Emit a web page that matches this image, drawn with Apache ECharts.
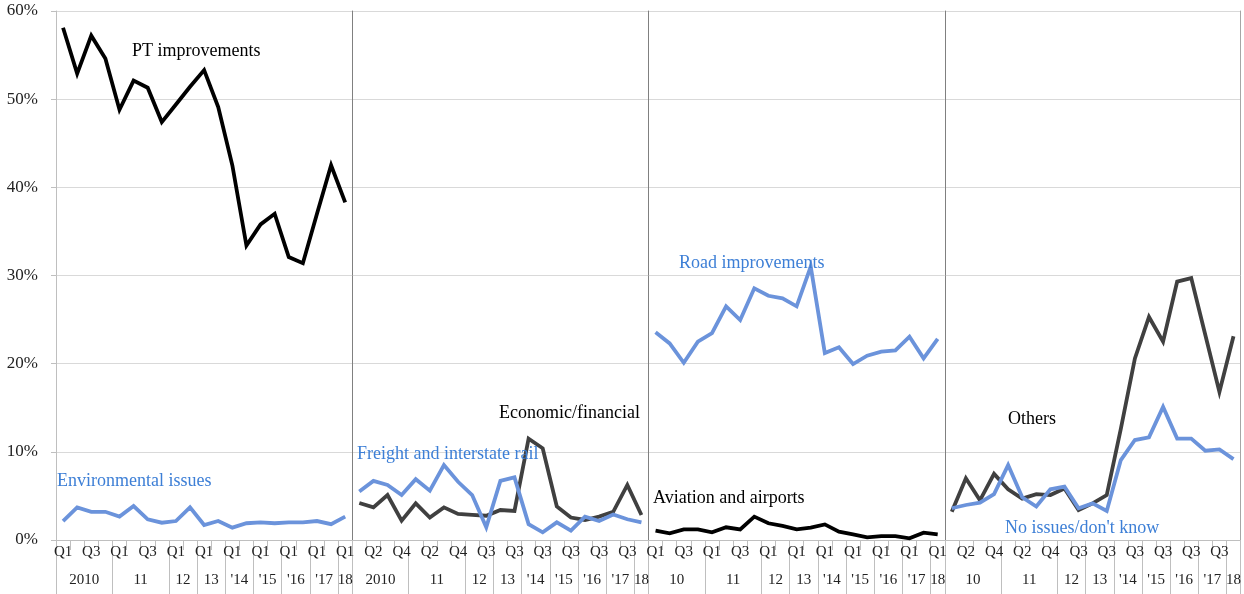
<!DOCTYPE html>
<html>
<head>
<meta charset="utf-8">
<script src="https://cdn.jsdelivr.net/npm/echarts@6/dist/echarts.min.js"></script>
<style>
    body { margin: 0; background: #fff; }
    #main { width: 1244px; height: 594px; }
</style>
</head>
<body>
<div id="main"></div>
<script>
var chartDom = document.getElementById('main');
var myChart = echarts.init(chartDom);
var option;

// quarters - 2010/11 every quarter, then half-yearly
var quarterCats = ['2010 Q1', '2010 Q2', '2010 Q3', '2010 Q4', '2011 Q1', '2011 Q2', '2011 Q3', '2011 Q4',
    '2012 Q1', '2012 Q3', '2013 Q1', '2013 Q3', '2014 Q1', '2014 Q3', '2015 Q1', '2015 Q3',
    '2016 Q1', '2016 Q3', '2017 Q1', '2017 Q3', '2018 Q1'];
var yearLabelsA = ['2010', '11', '12', '13', "'14", "'15", "'16", "'17", '18'];
var yearLabelsB = ['10', '11', '12', '13', "'14", "'15", "'16", "'17", '18'];
var yearSizes = [4, 4, 2, 2, 2, 2, 2, 2, 1];

// panel 1
var ptImprovements = [58.1, 52.9, 57.2, 54.6, 48.8, 52.1, 51.3, 47.4, 49.4, 51.4, 53.3, 49.1, 42.5, 33.4, 35.8, 37.0, 32.1, 31.4, 37.0, 42.5, 38.3];
var environmental = [2.15, 3.7, 3.2, 3.2, 2.65, 3.85, 2.35, 1.96, 2.15, 3.7, 1.7, 2.15, 1.4, 1.9, 2.0, 1.9, 2.0, 2.0, 2.15, 1.8, 2.65];
// panel 2
var economic = [4.2, 3.7, 5.1, 2.2, 4.15, 2.55, 3.7, 2.95, 2.84, 2.75, 3.4, 3.3, 11.5, 10.4, 3.8, 2.55, 2.27, 2.65, 3.2, 6.25, 2.84];
var freightRail = [5.5, 6.7, 6.25, 5.1, 6.9, 5.6, 8.5, 6.6, 5.1, 1.44, 6.7, 7.1, 1.8, 0.87, 2.0, 1.06, 2.65, 2.15, 2.9, 2.35, 2.0];
// panel 3
var aviation = [1.06, 0.75, 1.2, 1.2, 0.87, 1.44, 1.2, 2.65, 1.9, 1.6, 1.2, 1.4, 1.77, 0.95, 0.64, 0.3, 0.45, 0.45, 0.19, 0.83, 0.64];
var road = [23.55, 22.3, 20.1, 22.5, 23.45, 26.5, 24.95, 28.55, 27.7, 27.4, 26.5, 31.0, 21.2, 21.85, 19.96, 20.9, 21.36, 21.5, 23.06, 20.6, 22.8];
// panel 4
var others = [3.2, 7.0, 4.5, 7.5, 5.75, 4.7, 5.2, 5.1, 5.85, 3.4, 4.15, 5.1, 12.6, 20.6, 25.3, 22.5, 29.3, 29.7, 23.25, 16.8, 23.1];
var noIssues = [3.6, 3.97, 4.23, 5.2, 8.5, 4.84, 3.8, 5.75, 6.05, 3.6, 4.15, 3.3, 9.07, 11.34, 11.65, 15.1, 11.5, 11.5, 10.13, 10.28, 9.18];

var FONT = '"Liberation Serif", "Times New Roman", serif';
var BLACK = '#000000';
var GREY = '#404040';
var BLUE = '#6b93db';
var BLUE_TEXT = '#3d7fd6';

var left0 = 56;
var panelW = 296.25;

// year row is drawn on a half-step axis (43 points) so group labels can sit centered
var halfSlots = [];
for (var h = 0; h <= 42; h++) halfSlots.push('h' + h);

function yearInfo(labels) {
    var centers = {};
    var bounds = { 0: true };
    var pos = 0;
    for (var i = 0; i < yearSizes.length; i++) {
        centers[(pos * 2 + yearSizes[i])] = labels[i];
        pos += yearSizes[i];
        bounds[pos * 2] = true;
    }
    return { centers: centers, bounds: bounds };
}

var grids = [], xAxes = [], yAxes = [];
for (var p = 0; p < 4; p++) {
    grids.push({ left: left0 + p * panelW, width: panelW, top: 11, bottom: 54 });
    var odd = (p % 2 == 1);
    var info = yearInfo(p < 2 ? yearLabelsA : yearLabelsB);
    xAxes.push({
        type: 'category',
        gridIndex: p,
        position: 'bottom',
        data: quarterCats,
        boundaryGap: true,
        axisLine: { show: true, lineStyle: { color: '#bfbfbf', width: 1 } },
        axisTick: { show: true, interval: 0, length: 10, lineStyle: { color: '#bfbfbf' } },
        axisLabel: {
            interval: (function (o) {
                return function (idx) { return o ? idx % 2 == 1 && idx < 20 : idx % 2 == 0; };
            })(odd),
            formatter: function (v) { return v.split(' ')[1]; },
            margin: 5,
            fontFamily: FONT,
            fontSize: 15,
            color: '#222'
        }
    });
    xAxes.push({
        type: 'category',
        gridIndex: p,
        position: 'bottom',
        data: halfSlots,
        boundaryGap: false,
        axisLine: { show: false },
        axisTick: {
            show: true,
            length: 54,
            interval: (function (b) { return function (idx) { return !!b[idx]; }; })(info.bounds),
            lineStyle: { color: '#bfbfbf' }
        },
        axisLabel: {
            interval: (function (c) { return function (idx) { return c[idx] !== undefined; }; })(info.centers),
            formatter: (function (c) { return function (v, idx) { return c[idx] || ''; }; })(info.centers),
            margin: 33,
            fontFamily: FONT,
            fontSize: 15,
            color: '#222'
        }
    });
    yAxes.push({
        type: 'value',
        gridIndex: p,
        min: 0,
        max: 60,
        interval: 10,
        axisLine: { show: true, lineStyle: { color: p == 0 ? '#bfbfbf' : '#808080', width: 1 } },
        axisTick: { show: p == 0, length: 5, lineStyle: { color: '#bfbfbf' } },
        axisLabel: {
            show: p == 0,
            formatter: '{value}%',
            margin: 18,
            fontFamily: FONT,
            fontSize: 17,
            color: '#222'
        },
        splitLine: { show: true, lineStyle: { color: '#d9d9d9', width: 1 } }
    });
}
// right edge of last panel
yAxes.push({
    type: 'value', gridIndex: 3, position: 'right', min: 0, max: 60, interval: 10,
    axisLine: { show: true, lineStyle: { color: '#a6a6a6' } },
    axisTick: { show: false }, axisLabel: { show: false }, splitLine: { show: false }
});

function lineSeries(name, data, panel, color, width) {
    return {
        name: name,
        type: 'line',
        xAxisIndex: panel * 2,
        yAxisIndex: panel,
        data: data,
        symbol: 'none',
        lineStyle: { color: color, width: width, join: 'miter' },
        silent: true,
        animation: false
    };
}

function tag(text, x, y, color) {
    return {
        type: 'text',
        x: x,
        y: y,
        style: { text: text, fill: color, font: '18px ' + FONT, verticalAlign: 'middle' },
        z: 100
    };
}

option = {
    animation: false,
    grid: grids,
    xAxis: xAxes,
    yAxis: yAxes,
    series: [
        lineSeries('PT improvements', ptImprovements, 0, BLACK, 3.8),
        lineSeries('Environmental issues', environmental, 0, BLUE, 3.8),
        lineSeries('Economic/financial', economic, 1, GREY, 3.8),
        lineSeries('Freight and interstate rail', freightRail, 1, BLUE, 3.8),
        lineSeries('Aviation and airports', aviation, 2, BLACK, 3.8),
        lineSeries('Road improvements', road, 2, BLUE, 3.8),
        lineSeries('Others', others, 3, GREY, 3.8),
        lineSeries("No issues/don't know", noIssues, 3, BLUE, 3.8)
    ],
    graphic: [
        tag('PT improvements', 132, 51, BLACK),
        tag('Environmental issues', 57, 481, BLUE_TEXT),
        tag('Freight and interstate rail', 357, 454, BLUE_TEXT),
        tag('Economic/financial', 499, 413, BLACK),
        tag('Road improvements', 679, 263, BLUE_TEXT),
        tag('Aviation and airports', 653, 498, BLACK),
        tag('Others', 1008, 419, BLACK),
        tag("No issues/don't know", 1005, 528, BLUE_TEXT)
    ]
};

option && myChart.setOption(option);
</script>
</body>
</html>
